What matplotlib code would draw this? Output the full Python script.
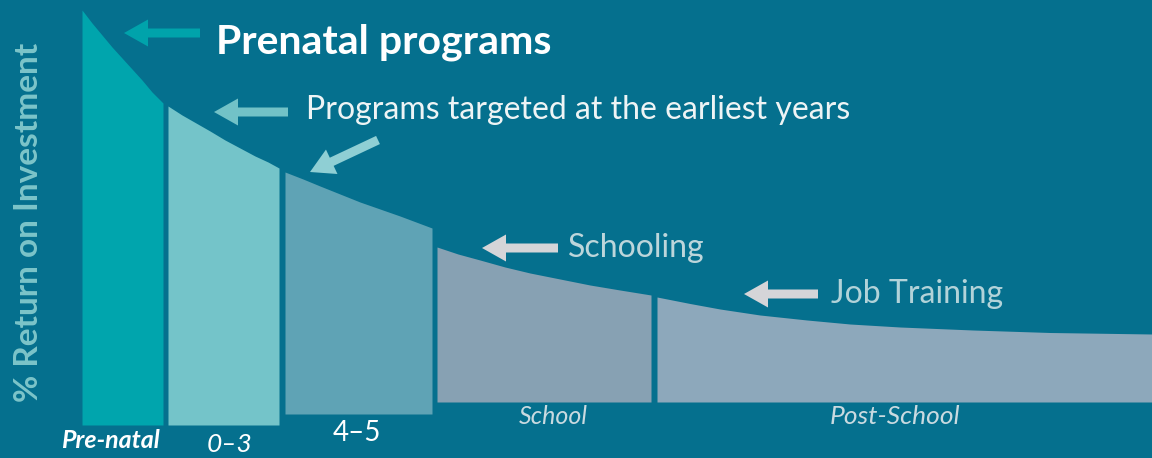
import numpy as np
import matplotlib
matplotlib.use("Agg")
import matplotlib.pyplot as plt
from matplotlib.patches import FancyArrow

# stages along the life course
stages = ['Pre-natal', '0–3', '4–5', 'School', 'Post-School']
colors = ['#00a5ad', '#74c4c9', '#5fa3b5', '#87a1b3', '#8da8bb']

# return curve, one list per stage (age units, return units)
ages_prenatal = [82, 92, 102, 112, 122, 132, 142, 152, 163]
ret_prenatal = [448, 435, 423, 411, 400, 389, 378, 366, 355]
ages_03 = [168, 182, 196, 210, 225, 240, 255, 268, 279]
ret_03 = [352, 343, 335, 327, 318, 310, 302, 296, 290]
ages_45 = [285, 303, 320, 340, 360, 380, 400, 416, 432]
ret_45 = [286, 279, 272, 264, 256, 249, 242, 236, 230]
ages_school = [437, 458, 480, 505, 530, 560, 590, 620, 651]
ret_school = [211, 204, 198, 191, 185, 179, 173, 168, 163]
ages_post = [657, 690, 720, 760, 807, 850, 900, 973, 1050, 1152]
ret_post = [161, 154.5, 149, 143, 138, 134, 131, 128, 125.5, 124]

# baseline of each block
base = [33, 33, 44, 56, 56]

ages = [ages_prenatal, ages_03, ages_45, ages_school, ages_post]
rets = [ret_prenatal, ret_03, ret_45, ret_school, ret_post]

fig = plt.figure(figsize=(11.52, 4.58), dpi=100)
bg = '#05708e'
fig.patch.set_facecolor(bg)
ax = fig.add_axes([0, 0, 1, 1])
ax.set_facecolor(bg)
ax.set_xlim(0, 1152)
ax.set_ylim(0, 458)
ax.axis('off')

for a, r, b, c in zip(ages, rets, base, colors):
    ax.fill_between(a, b, r, color=c, lw=0)

# stage labels under blocks
ax.text(110, 17, stages[0], color='white', fontsize=18, fontweight='bold',
        style='italic', ha='center', va='center', family='Lato')
ax.text(230, 14, stages[1], color='white', fontsize=19,
        style='italic', ha='center', va='center', family='Lato')
ax.text(357, 25, stages[2], color='white', fontsize=20,
        ha='center', va='center', family='Lato')
ax.text(553, 41, stages[3], color='#c9dae0', fontsize=18,
        style='italic', ha='center', va='center', family='Lato')
ax.text(895, 41, stages[4], color='#c9dae0', fontsize=19,
        style='italic', ha='center', va='center', family='Lato')

# y axis title
ax.text(29, 236, '% Return on Investment', rotation=90, color='#7cc4c9',
        fontsize=24, fontweight='bold', ha='center', va='center', family='Lato')

# arrows and callouts
def block_arrow(x0, y0, x1, y1, c, w=9, hw=27, hl=24):
    ax.add_patch(FancyArrow(x0, y0, x1 - x0, y1 - y0, width=w, head_width=hw,
                            head_length=hl, length_includes_head=True,
                            color=c, lw=0))

block_arrow(200, 425, 124, 425, '#00a3ab')
ax.text(216, 416, 'Prenatal programs', color='white', fontsize=29.5,
        fontweight='bold', ha='left', va='center', family='Lato')

block_arrow(288, 346, 214, 346, '#72c2c7')
ax.text(306, 348, 'Programs targeted at the earliest years', color='#eef4f5',
        fontsize=23, ha='left', va='center', family='Lato')
block_arrow(378, 318, 310, 286, '#8fcfd4')

block_arrow(558, 210, 482, 210, '#d5d5d8')
ax.text(568, 210, 'Schooling', color='#bdd6db', fontsize=23,
        ha='left', va='center', family='Lato')

block_arrow(818, 164, 744, 164, '#d5d5d8')
ax.text(831, 164, 'Job Training', color='#b2d3d9', fontsize=23,
        ha='left', va='center', family='Lato')

fig.savefig('out.png', dpi=100, facecolor=bg)
